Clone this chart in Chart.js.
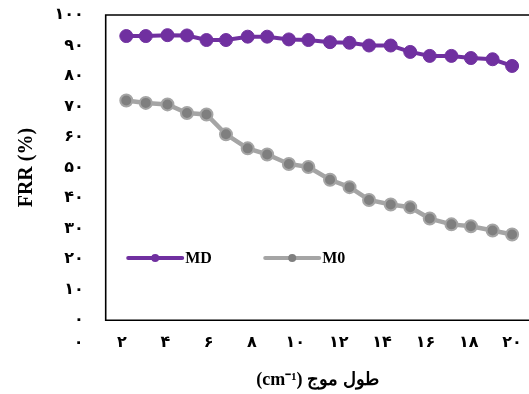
<!DOCTYPE html>
<html>
<head>
<meta charset="utf-8">
<script src="https://cdn.jsdelivr.net/npm/chart.js@4"></script>
<style>
  body { margin: 0; background: #fff; }
  #wrap { width: 529px; height: 394px; }
</style>
</head>
<body>
<div id="wrap"><canvas id="myChart"></canvas></div>
<script>
// data
const xValues = [2.2, 3.1, 4.1, 5.0, 5.9, 6.8, 7.8, 8.7, 9.7, 10.6, 11.6, 12.5, 13.4, 14.4, 15.3, 16.2, 17.2, 18.1, 19.1, 20.0];
const mdValues = [93.1, 93.1, 93.4, 93.3, 91.8, 91.8, 92.9, 92.9, 92.0, 91.8, 91.1, 90.9, 90.0, 90.0, 87.9, 86.6, 86.6, 85.9, 85.5, 83.3];
const m0Values = [72.0, 71.2, 70.7, 67.9, 67.4, 60.9, 56.3, 54.3, 51.2, 50.2, 46.0, 43.6, 39.4, 37.9, 37.0, 33.3, 31.4, 30.8, 29.4, 28.1];

const xTickValues = [0, 2, 4, 6, 8, 10, 12, 14, 16, 18, 20];
const xTickLabels = ['۰', '۲', '۴', '۶', '۸', '۱۰', '۱۲', '۱۴', '۱۶', '۱۸', '۲۰'];
const yTickValues = [0, 10, 20, 30, 40, 50, 60, 70, 80, 90, 100];
const yTickLabels = ['۰', '۱۰', '۲۰', '۳۰', '۴۰', '۵۰', '۶۰', '۷۰', '۸۰', '۹۰', '۱۰۰'];

const seriesNames = ['MD', 'M0'];
const xTitle = '(cm⁻¹) طول موج';
const yTitle = 'FRR (%)';

const serif = '"Liberation Serif", "Times New Roman", serif';
const digits = '"DejaVu Sans", sans-serif';

function points(ys) {
    return xValues.map((x, i) => ({ x: x, y: ys[i] }));
}

// frame round the plot area (right side runs off the picture)
const framePlugin = {
    id: 'frame',
    beforeDatasetsDraw(chart) {
        const a = chart.chartArea;
        const ctx = chart.ctx;
        ctx.save();
        ctx.strokeStyle = '#000';
        ctx.lineWidth = 1.6;
        ctx.beginPath();
        ctx.moveTo(chart.width, a.top);
        ctx.lineTo(a.left, a.top);
        ctx.lineTo(a.left, a.bottom);
        ctx.lineTo(chart.width, a.bottom);
        ctx.stroke();
        ctx.restore();
    }
};

// legend sits inside the plot, like the excel one
const innerLegend = {
    id: 'innerLegend',
    afterDatasetsDraw(chart) {
        const a = chart.chartArea;
        const ctx = chart.ctx;
        const y = chart.scales.y.getPixelForValue(20.4);
        const offsets = [22.5, 159.5];
        ctx.save();
        chart.data.datasets.forEach((ds, i) => {
            const x0 = a.left + offsets[i];
            ctx.strokeStyle = ds.borderColor;
            ctx.lineWidth = 4;
            ctx.lineCap = 'round';
            ctx.beginPath();
            ctx.moveTo(x0, y);
            ctx.lineTo(x0 + 54, y);
            ctx.stroke();
            ctx.fillStyle = ds.pointBackgroundColor;
            ctx.beginPath();
            ctx.arc(x0 + 27, y, 4, 0, Math.PI * 2);
            ctx.fill();
            ctx.fillStyle = '#000';
            ctx.font = 'bold 16px ' + serif;
            ctx.textBaseline = 'middle';
            ctx.fillText(ds.label, x0 + 57, y + 1);
        });
        ctx.restore();
    }
};

const data = {
    datasets: [{
            label: seriesNames[0],
            data: points(mdValues),
            borderColor: '#7030A0',
            backgroundColor: '#7030A0',
            pointBackgroundColor: '#7030A0',
            pointBorderColor: '#7030A0',
            borderWidth: 4,
            pointRadius: 6.5,
            pointBorderWidth: 1,
        },
        {
            label: seriesNames[1],
            data: points(m0Values),
            borderColor: '#A5A5A5',
            backgroundColor: '#7F7F7F',
            pointBackgroundColor: '#7F7F7F',
            pointBorderColor: '#A5A5A5',
            borderWidth: 4.5,
            pointRadius: 6,
            pointBorderWidth: 2,
        }
    ]
};

const config = {
    type: 'line',
    data: data,
    options: {
        responsive: true,
        maintainAspectRatio: false,
        animation: false,
        layout: { autoPadding: false, padding: { top: 15, right: 0, bottom: 1, left: 0 } },
        plugins: {
            legend: { display: false },
            tooltip: { enabled: false }
        },
        scales: {
            x: {
                type: 'linear',
                min: 1.25,
                max: 20.78,
                afterBuildTicks: s => { s.ticks = xTickValues.map(v => ({ value: v })); },
                afterFit: s => { s.paddingRight = 0; s.paddingLeft = 0; },
                grid: { display: false, tickLength: 8 },
                border: { display: false },
                ticks: {
                    autoSkip: false,
                    maxRotation: 0,
                    padding: 5,
                    color: '#000',
                    font: { family: digits, size: 16, weight: 'bold' },
                    callback: v => xTickLabels[xTickValues.indexOf(v)]
                },
                title: {
                    display: true,
                    text: xTitle,
                    color: '#000',
                    font: { family: serif, size: 18, weight: 'bold' },
                    padding: { top: 12, bottom: 2 }
                }
            },
            y: {
                min: 0,
                max: 100,
                afterBuildTicks: s => { s.ticks = yTickValues.map(v => ({ value: v })); },
                afterFit: s => { s.width = 105.7; },
                grid: { display: false, tickLength: 22 },
                border: { display: false },
                ticks: {
                    padding: 0,
                    color: '#000',
                    font: { family: digits, size: 16, weight: 'bold' },
                    callback: v => yTickLabels[yTickValues.indexOf(v)]
                },
                title: {
                    display: true,
                    text: yTitle,
                    color: '#000',
                    font: { family: serif, size: 20, weight: 'bold' },
                    padding: { top: 15, bottom: 0 }
                }
            }
        }
    },
    plugins: [framePlugin, innerLegend]
};

const myChart = new Chart(document.getElementById('myChart'), config);
</script>
</body>
</html>
